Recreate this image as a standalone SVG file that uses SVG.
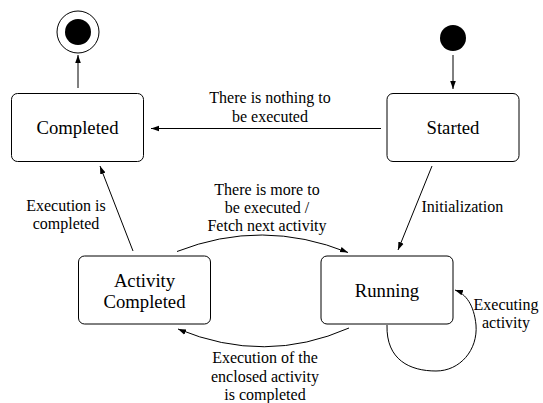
<svg xmlns="http://www.w3.org/2000/svg" width="543" height="403" viewBox="0 0 543 403">
<defs>
<marker id="ah" viewBox="0 0 10 10" refX="10" refY="5" markerWidth="8" markerHeight="8" markerUnits="userSpaceOnUse" orient="auto">
<path d="M0,1.5 L10,5 L0,8.5 Z" fill="#000"/>
</marker>
</defs>
<rect width="543" height="403" fill="#fff"/>
<g id="final">
<circle cx="78" cy="32" r="21" fill="#fff" stroke="#000" stroke-width="1"/>
<circle cx="78" cy="32" r="13" fill="#000"/>
</g>
<g id="initial">
<circle cx="453" cy="38" r="13" fill="#000"/>
</g>
<g id="completed">
<rect x="11.5" y="93.5" width="132" height="68" rx="6" fill="#fff" stroke="#000"/>
<text font-family="Liberation Serif" font-size="18.7" text-anchor="middle" x="77.5" y="133.5">Completed</text>
</g>
<g id="started">
<rect x="387" y="93.5" width="132" height="68" rx="6" fill="#fff" stroke="#000"/>
<text font-family="Liberation Serif" font-size="18.7" text-anchor="middle" x="453" y="134">Started</text>
</g>
<g id="activity-completed">
<rect x="78.5" y="256" width="132" height="68" rx="6" fill="#fff" stroke="#000"/>
<text font-family="Liberation Serif" font-size="18.7" text-anchor="middle" x="144.5" y="287">Activity</text>
<text font-family="Liberation Serif" font-size="18.7" text-anchor="middle" x="144.5" y="308">Completed</text>
</g>
<g id="running">
<rect x="321" y="256" width="132" height="68" rx="6" fill="#fff" stroke="#000"/>
<text font-family="Liberation Serif" font-size="18.7" text-anchor="middle" x="387" y="297">Running</text>
</g>
<g id="connectors" fill="none" stroke="#000" stroke-width="1" marker-end="url(#ah)">
<line x1="78" y1="88" x2="78" y2="55"/>
<line x1="453" y1="55" x2="453" y2="89"/>
<line x1="381" y1="128.5" x2="151" y2="128.5"/>
<line x1="432" y1="166" x2="398" y2="250"/>
<line x1="133" y1="251" x2="100" y2="166"/>
<path d="M177,251.5 Q262,218 348,252.5"/>
<path d="M349,328 Q265,365 178,329"/>
<path d="M387,325 C386,360 410,371 436,371 C460,371 478,350 476,325 C474,305 466,294 455,290"/>
</g>
<g id="labels" font-family="Liberation Serif" font-size="16" text-anchor="middle">
<text x="270" y="103">There is nothing to</text>
<text x="270" y="121.5">be executed</text>
<text x="66" y="211">Execution is</text>
<text x="66" y="229">completed</text>
<text x="267" y="195">There is more to</text>
<text x="267" y="213">be executed /</text>
<text x="267" y="231">Fetch next activity</text>
<text x="421.5" y="211.5" text-anchor="start">Initialization</text>
<text x="506" y="310">Executing</text>
<text x="506" y="328">activity</text>
<text x="265" y="363">Execution of the</text>
<text x="265" y="381.5">enclosed activity</text>
<text x="265" y="400">is completed</text>
</g>
</svg>
